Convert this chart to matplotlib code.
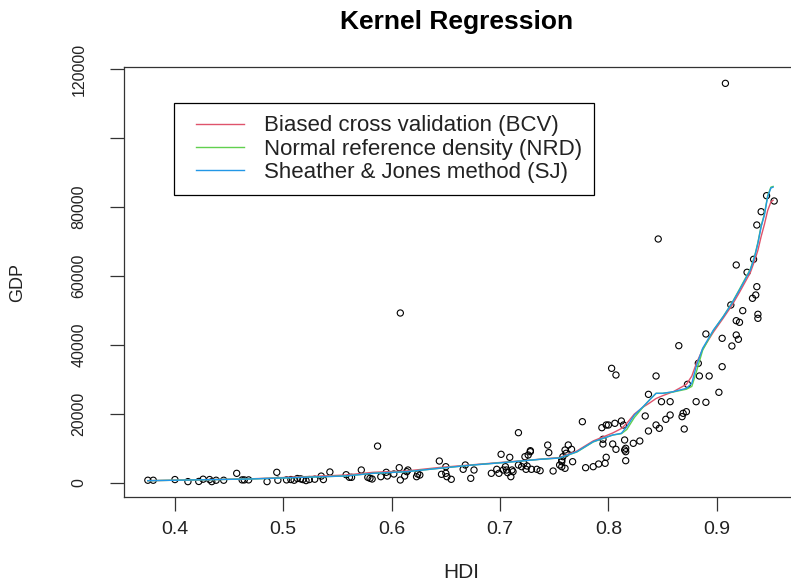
import matplotlib
matplotlib.use('Agg')
import matplotlib.pyplot as plt
from matplotlib.legend_handler import HandlerLine2D
import numpy as np

plt.rcParams['font.family'] = ['Liberation Sans', 'DejaVu Sans']

# ---- scatter data (HDI vs GDP) ----
hdi_low = [0.375, 0.380, 0.400, 0.412, 0.422, 0.426, 0.432, 0.434, 0.438, 0.445,
           0.457, 0.462, 0.464, 0.468, 0.485, 0.494, 0.495, 0.503, 0.507, 0.510,
           0.513, 0.516, 0.518, 0.521, 0.524, 0.529, 0.535, 0.537, 0.543, 0.558]
gdp_low = [800, 800, 1000, 400, 450, 1100, 1000, 400, 800, 800,
           2800, 900, 900, 900, 400, 3100, 800, 900, 1000, 800,
           1300, 1200, 1000, 700, 1000, 1100, 2000, 1000, 3200, 2400]

hdi_mid = [0.561, 0.563, 0.572, 0.578, 0.580, 0.582, 0.587, 0.590, 0.595, 0.596,
           0.602, 0.607, 0.608, 0.612, 0.614, 0.615, 0.623, 0.624, 0.626, 0.644,
           0.646, 0.650, 0.650, 0.651, 0.655, 0.666, 0.668, 0.673, 0.676, 0.692,
           0.697, 0.699, 0.701, 0.703, 0.705, 0.706, 0.707, 0.709, 0.710, 0.711,
           0.712, 0.717, 0.717, 0.720, 0.722, 0.723, 0.724, 0.725, 0.726, 0.728,
           0.728, 0.729, 0.734, 0.737, 0.744, 0.745, 0.749, 0.755, 0.608]
gdp_mid = [1650, 1650, 3770, 1650, 1360, 1160, 10700, 1830, 3100, 2030,
           2610, 4440, 870, 2030, 3280, 3770, 1830, 2610, 2320, 6380,
           2520, 4730, 2810, 1830, 1070, 3970, 5220, 1360, 3770, 2810,
           3970, 2810, 8320, 3770, 4730, 3770, 2990, 7450, 1830, 3770,
           3280, 14590, 5220, 4730, 5710, 7630, 3970, 4930, 8120, 9080,
           9370, 3970, 3970, 3570, 11000, 8800, 3480, 5220, 49300]

hdi_high = [0.803, 0.807, 0.844, 0.837, 0.849, 0.857, 0.776, 0.794, 0.798, 0.800,
            0.806, 0.812, 0.814, 0.834, 0.853, 0.857, 0.844, 0.847, 0.837, 0.815,
            0.795, 0.795, 0.804, 0.807, 0.823, 0.829, 0.815, 0.816, 0.816, 0.816,
            0.798, 0.797, 0.791, 0.786, 0.779, 0.767, 0.766, 0.763, 0.760, 0.761,
            0.758, 0.757, 0.757, 0.760, 0.757]
gdp_high = [33250, 31320, 31030, 25710, 23580, 23580, 17780, 16040, 16820, 16820,
            17310, 17980, 16820, 19430, 18470, 19720, 16820, 15860, 15080, 12470,
            12670, 11310, 11310, 9770, 11510, 12180, 9570, 10060, 9080, 6470,
            7450, 5710, 5510, 4730, 4440, 6180, 9770, 11020, 9570, 8610,
            7630, 6670, 4730, 4260, 6180]

hdi_top = [0.937, 0.918, 0.934, 0.928, 0.937, 0.936, 0.933, 0.924, 0.938, 0.938,
           0.918, 0.921, 0.913, 0.890, 0.905, 0.918, 0.920, 0.914, 0.865, 0.883,
           0.905, 0.884, 0.893, 0.873, 0.902, 0.881, 0.890, 0.872, 0.869, 0.868,
           0.870, 0.908, 0.846, 0.946, 0.953, 0.941]
gdp_top = [74820, 63220, 64870, 61100, 56930, 54520, 53560, 49970, 48920, 47760,
           47070, 46600, 51620, 43210, 41960, 42920, 41670, 39730, 39820, 34710,
           33730, 31030, 31030, 28620, 26300, 23580, 23400, 20680, 20210, 19240,
           15660, 115900, 70760, 83320, 81780, 78680]

hdi = np.array(hdi_low + hdi_mid + hdi_high + hdi_top)
gdp = np.array(gdp_low + gdp_mid + gdp_high + gdp_top)

# ---- kernel regression curves ----
curve_hdi = [0.375, 0.469, 0.557, 0.583, 0.614, 0.644, 0.675, 0.706, 0.737, 0.755,
             0.771, 0.786, 0.804, 0.812, 0.817, 0.824, 0.832, 0.838, 0.844, 0.850,
             0.860, 0.872, 0.877, 0.881, 0.887, 0.897, 0.906, 0.914, 0.921, 0.931,
             0.935, 0.938, 0.941, 0.944, 0.947, 0.950, 0.952]
bcv_gdp = [670, 1200, 2300, 3100, 3500, 4500, 5300, 6100, 6900, 7400,
           9300, 12200, 14500, 15800, 17300, 20000, 22000, 23200, 24500, 25300,
           26500, 28600, 31000, 34500, 38800, 43800, 47800, 51500, 55300, 61000,
           64500, 67500, 71500, 75000, 79000, 81500, 82000]
nrd_gdp = [670, 1160, 2030, 2800, 3280, 4260, 5220, 6000, 6870, 7250,
           9000, 11900, 13900, 14300, 15500, 19000, 22000, 24100, 26000, 26000,
           26400, 27200, 28000, 32000, 38500, 44300, 48300, 52200, 56200, 62000,
           65800, 69800, 74600, 78000, 83300, 85800, 86000]
sj_gdp = [670, 1160, 2030, 2810, 3280, 4260, 5220, 6000, 6870, 7250,
          9080, 11980, 13920, 14410, 16330, 19720, 22130, 24070, 26010, 26010,
          26480, 27460, 28910, 33730, 39060, 44370, 48230, 52110, 55970, 61770,
          65630, 69510, 74330, 77720, 83030, 85550, 85800]

series_labels = ['Biased cross validation (BCV)',
                 'Normal reference density (NRD)',
                 'Sheather & Jones method (SJ)']
series_colors = ['#DF536B', '#61D04F', '#2297E6']

x_ticks = [0.4, 0.5, 0.6, 0.7, 0.8, 0.9]
y_ticks = [0, 20000, 40000, 60000, 80000, 100000, 120000]
y_ticklabels = ['0', '20000', '40000', '60000', '80000', '', '120000']

text_col = '#222222'

# ---- figure ----
fig = plt.figure(figsize=(7.91, 5.86), dpi=100)
ax = fig.add_axes([124 / 791, 1 - 497 / 586, 674 / 791, 430 / 586])

ax.scatter(hdi, gdp, s=20, facecolors='none', edgecolors='black', linewidths=0.8, zorder=2)
for ys, lab, col in zip([bcv_gdp, nrd_gdp, sj_gdp], series_labels, series_colors):
    ax.plot(curve_hdi, ys, color=col, linewidth=1.0, label=lab, zorder=3)

ax.set_xlim(0.353, 0.975)
ax.set_ylim(-4060, 120640)

ax.set_xticks(x_ticks)
ax.set_xticklabels([f'{v:.1f}' for v in x_ticks], fontsize=14, color=text_col)
ax.set_yticks(y_ticks)
ax.set_yticklabels(y_ticklabels, rotation=90, va='center', fontsize=11.5, color=text_col)
ax.tick_params(axis='both', direction='out', length=10, width=0.9, color='#333333')
ax.tick_params(axis='x', pad=7)
ax.tick_params(axis='y', pad=17)
for sp in ax.spines.values():
    sp.set_linewidth(0.9)
    sp.set_color('#333333')

leg = ax.legend(loc='upper left', bbox_to_anchor=(0.074, 0.916), borderaxespad=0,
                fontsize=16, frameon=True, fancybox=False, framealpha=1,
                edgecolor='black', handlelength=2.6, handletextpad=0.9,
                labelspacing=0.1, borderpad=0.55,
                handler_map={plt.Line2D: HandlerLine2D(xpad=0.45)})
leg.get_frame().set_linewidth(0.9)
for t in leg.get_texts():
    t.set_color(text_col)

fig.text(457 / 791, 1 - 22 / 586, 'Kernel Regression', fontsize=19,
         fontweight='bold', ha='center', va='center')
fig.text(461 / 791, 1 - 572 / 586, 'HDI', fontsize=15, ha='center', va='center',
         color=text_col)
fig.text(18 / 791, 1 - 283 / 586, 'GDP', fontsize=13, rotation=90,
         ha='center', va='center', color=text_col)

fig.savefig('out.png', dpi=100)
